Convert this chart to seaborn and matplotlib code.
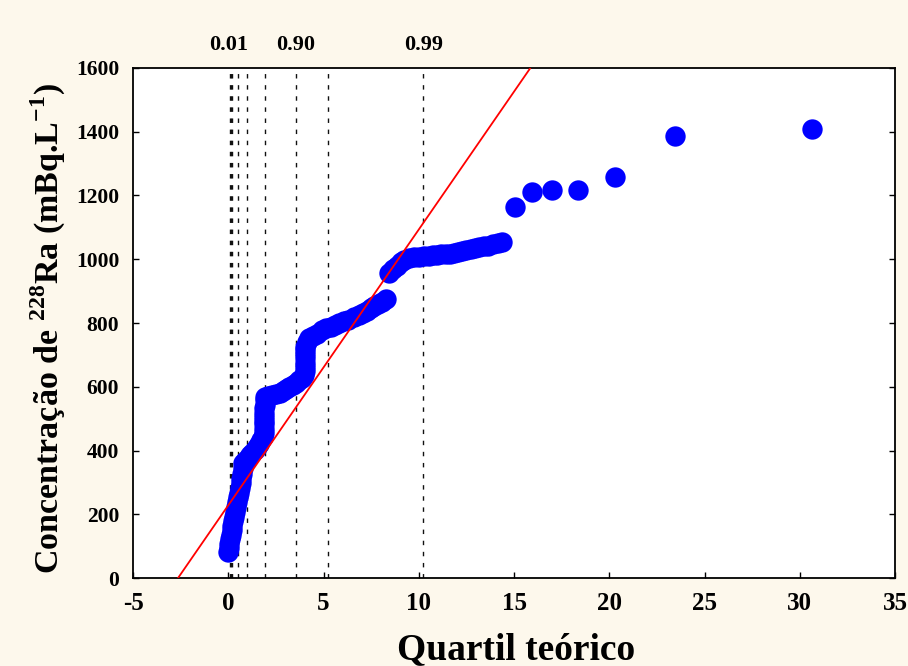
import matplotlib
matplotlib.use("Agg")
import matplotlib.pyplot as plt
import matplotlib.transforms as mtransforms
import seaborn as sns
import pandas as pd

# ---- data ----
q_theor = [0.00, 0.03, 0.06, 0.10, 0.14, 0.18, 0.22, 0.26, 0.30, 0.35, 0.40, 0.45, 0.50,
           0.55, 0.60, 0.65, 0.68, 0.71, 0.75, 0.79,
           0.90, 1.02, 1.14, 1.26, 1.38, 1.50, 1.62, 1.73, 1.84,
           1.85, 1.85, 1.86, 1.86, 1.87, 1.88, 1.90, 1.91, 1.93, 1.94,
           2.10, 2.30, 2.50, 2.69, 2.86, 3.04, 3.21, 3.38, 3.54, 3.70, 3.85, 4.00,
           4.01, 4.01, 4.02, 4.02, 4.02, 4.03, 4.04, 4.12, 4.26,
           4.45, 4.65, 4.94, 5.15, 5.38, 5.60, 5.83, 6.05, 6.30, 6.58, 6.87, 7.07,
           7.27, 7.47, 7.66, 7.86, 8.06, 8.28,
           8.44, 8.65, 8.85, 9.05, 9.25, 9.49, 9.75, 10.00, 10.27, 10.53, 10.75,
           10.97, 11.19, 11.41, 11.63, 11.85, 12.07, 12.28, 12.50, 12.72, 12.93,
           13.15, 13.40, 13.65, 13.90, 14.15, 14.37,
           15.07, 15.94, 16.98, 18.38, 20.30, 23.44, 30.63]
conc = [83, 95, 108, 122, 136, 150, 164, 178, 192, 206, 222, 238, 254,
        268, 283, 297, 312, 328, 344, 360,
        368, 376, 385, 393, 402, 412, 422, 432, 443,
        456, 469, 482, 494, 506, 519, 532, 544, 557, 569,
        572, 575, 578, 580, 586, 592, 598, 605, 613, 621, 629, 637,
        650, 663, 676, 690, 703, 715, 726, 740, 753,
        760, 767, 778, 783, 789, 795, 800, 805, 811, 818, 825, 832,
        839, 846, 853, 860, 867, 875,
        956, 968, 980, 990, 997, 1003, 1006, 1008, 1010, 1011, 1012,
        1014, 1015, 1016, 1018, 1020, 1023, 1025, 1028, 1031, 1034,
        1037, 1040, 1043, 1047, 1050, 1053,
        1165, 1212, 1217, 1217, 1259, 1388, 1408]

fit_x = [-2.64, 15.86]
fit_y = [0, 1600]

quantile_lines = [0.10, 0.16, 0.22, 0.52, 0.96, 1.92, 3.56, 5.21, 10.24]
quantile_labels = ["0.01", "0.90", "0.99"]
quantile_label_x = [0.0, 3.56, 10.24]

x_ticks = [-5, 0, 5, 10, 15, 20, 25, 30, 35]
y_ticks = [0, 200, 400, 600, 800, 1000, 1200, 1400, 1600]

# ---- plotting ----
sns.set_theme(style="white")
plt.rcParams['font.family'] = ['Liberation Serif', 'DejaVu Serif']
plt.rcParams['font.weight'] = 'bold'
plt.rcParams['text.color'] = 'black'
plt.rcParams['axes.labelcolor'] = 'black'
plt.rcParams['xtick.color'] = 'black'
plt.rcParams['ytick.color'] = 'black'
plt.rcParams['mathtext.fontset'] = 'custom'
plt.rcParams['mathtext.rm'] = 'Liberation Serif:bold'
plt.rcParams['mathtext.bf'] = 'Liberation Serif:bold'

bg = "#FDF8EC"
fig = plt.figure(figsize=(9.08, 6.66), dpi=100, facecolor=bg)
ax = fig.add_axes([0.1465, 0.132, 0.8392, 0.766])
ax.set_facecolor("white")

for xv in quantile_lines:
    ax.axvline(xv, color="#111111", lw=1.0, ls=(0, (3.2, 4.8)), zorder=1)

df = pd.DataFrame({"q": q_theor, "c": conc})
sns.scatterplot(data=df, x="q", y="c", ax=ax, color="#0000FF", s=215,
                linewidth=0, marker="o", zorder=3, legend=False)

fit = pd.DataFrame({"x": fit_x, "y": fit_y})
sns.lineplot(data=fit, x="x", y="y", ax=ax, color="#FF0000", lw=1.3, zorder=4)

ax.set_xlim(-5, 35)
ax.set_ylim(0, 1600)
ax.set_xticks(x_ticks)
ax.set_yticks(y_ticks)
ax.set_xticklabels([str(v) for v in x_ticks], fontsize=18, fontweight='bold', color='black')
ax.set_yticklabels([str(v) for v in y_ticks], fontsize=15.5, fontweight='bold', color='black')
ax.tick_params(axis='x', direction='in', length=4, width=1, pad=10, bottom=True, top=False)
ax.tick_params(axis='y', direction='in', length=4, width=1, pad=10, left=True, right=True)

for sp in ax.spines.values():
    sp.set_visible(True)
    sp.set_color("black")
    sp.set_linewidth(1.3)

ax.set_xlabel("Quartil teórico", fontsize=27, fontweight='bold', color='black')
ax.xaxis.set_label_coords(0.503, -0.105)
ax.xaxis.label.set_va('top')
ax.set_ylabel(r"Concentração de $^{228}$Ra (mBq.L$^{-1}$)", fontsize=24.5,
              fontweight='bold', color='black')
ax.yaxis.set_label_coords(-0.085, 0.49)

trans = mtransforms.blended_transform_factory(ax.transData, ax.transAxes)
for lab, xv in zip(quantile_labels, quantile_label_x):
    ax.text(xv, 1.045, lab, transform=trans, ha='center', va='center',
            fontsize=16, fontweight='bold', color='black')

fig.savefig("out.png", dpi=100, facecolor=bg)
